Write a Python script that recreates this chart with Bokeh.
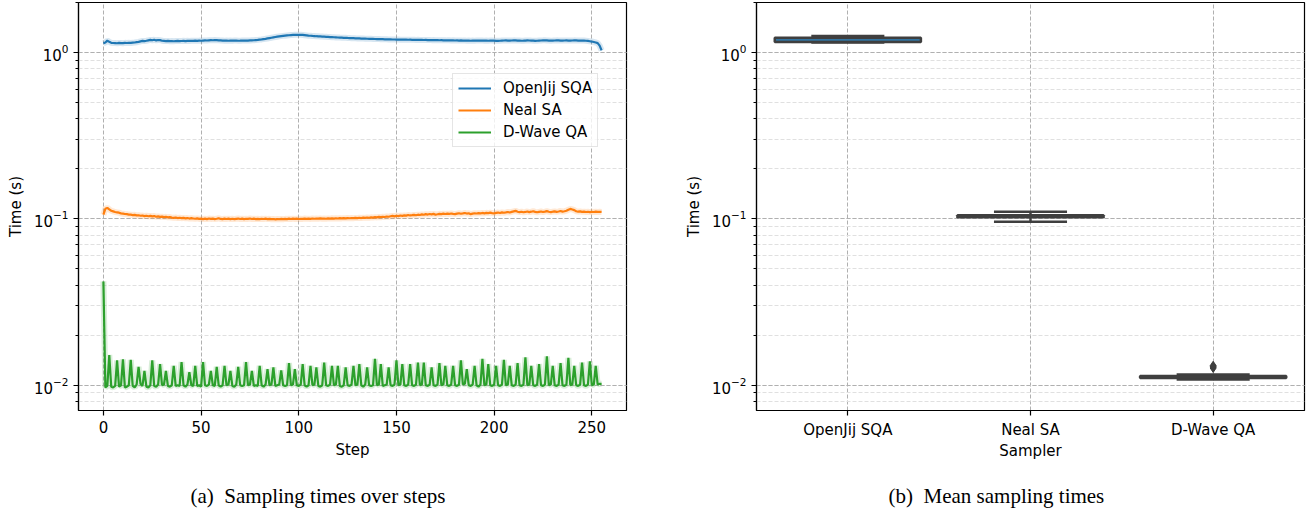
from bokeh.plotting import figure
from bokeh.layouts import row, column
from bokeh.models import (Range1d, FactorRange, Label, Legend, LegendItem,
                          LogTicker, FixedTicker, ColumnDataSource)
from bokeh.transform import dodge
from bokeh.embed import file_html
from bokeh.resources import INLINE

# ---------------- data ----------------
openjij_sqa = [
    1.138, 1.150, 1.180, 1.160, 1.145, 1.142, 1.140, 1.138, 1.143, 1.141, 1.139, 1.144, 1.142, 1.145, 1.143, 1.147,
    1.150, 1.155, 1.160, 1.168, 1.175, 1.172, 1.178, 1.185, 1.192, 1.186, 1.194, 1.183, 1.190, 1.188, 1.178, 1.175,
    1.172, 1.176, 1.171, 1.174, 1.170, 1.173, 1.175, 1.172, 1.174, 1.176, 1.173, 1.177, 1.175, 1.178, 1.176, 1.179,
    1.177, 1.180, 1.178, 1.181, 1.183, 1.182, 1.185, 1.187, 1.186, 1.189, 1.187, 1.185, 1.183, 1.181, 1.179, 1.180,
    1.178, 1.180, 1.179, 1.181, 1.180, 1.178, 1.179, 1.181, 1.180, 1.182, 1.181, 1.183, 1.185, 1.186, 1.189, 1.192,
    1.196, 1.200, 1.205, 1.210, 1.216, 1.222, 1.228, 1.234, 1.240, 1.246, 1.251, 1.256, 1.260, 1.264, 1.268, 1.271,
    1.274, 1.276, 1.278, 1.279, 1.280, 1.278, 1.276, 1.272, 1.268, 1.264, 1.262, 1.259, 1.257, 1.254, 1.252, 1.250,
    1.248, 1.246, 1.244, 1.242, 1.240, 1.238, 1.236, 1.234, 1.232, 1.230, 1.229, 1.227, 1.226, 1.224, 1.223, 1.221,
    1.220, 1.218, 1.217, 1.216, 1.214, 1.213, 1.212, 1.211, 1.210, 1.209, 1.208, 1.207, 1.206, 1.205, 1.204, 1.203,
    1.202, 1.201, 1.200, 1.199, 1.198, 1.198, 1.197, 1.197, 1.196, 1.196, 1.195, 1.196, 1.194, 1.195, 1.193, 1.194,
    1.192, 1.193, 1.191, 1.192, 1.190, 1.191, 1.189, 1.190, 1.188, 1.189, 1.187, 1.188, 1.186, 1.187, 1.185, 1.186,
    1.184, 1.185, 1.183, 1.185, 1.182, 1.184, 1.181, 1.183, 1.180, 1.182, 1.179, 1.181, 1.178, 1.180, 1.179, 1.181,
    1.180, 1.182, 1.181, 1.179, 1.181, 1.178, 1.180, 1.181, 1.179, 1.177, 1.176, 1.178, 1.180, 1.182, 1.183, 1.181,
    1.180, 1.182, 1.184, 1.183, 1.181, 1.180, 1.178, 1.179, 1.181, 1.183, 1.182, 1.180, 1.179, 1.177, 1.178, 1.180,
    1.182, 1.184, 1.185, 1.183, 1.181, 1.179, 1.180, 1.182, 1.184, 1.183, 1.181, 1.180, 1.182, 1.183, 1.181, 1.180,
    1.182, 1.184, 1.183, 1.181, 1.182, 1.180, 1.181, 1.178, 1.175, 1.170, 1.165, 1.158, 1.150, 1.140, 1.100, 1.030,
]

neal_sa = [
    0.1060, 0.1150, 0.1165, 0.1140, 0.1120, 0.1110, 0.1100, 0.1095, 0.1090, 0.1080, 0.1075, 0.1070, 0.1068, 0.1062, 0.1060, 0.1055,
    0.1058, 0.1050, 0.1052, 0.1045, 0.1048, 0.1040, 0.1045, 0.1038, 0.1042, 0.1035, 0.1040, 0.1030, 0.1036, 0.1028, 0.1032, 0.1025,
    0.1030, 0.1022, 0.1026, 0.1018, 0.1015, 0.1020, 0.1012, 0.1016, 0.1010, 0.1014, 0.1008, 0.1012, 0.1005, 0.1010, 0.1006, 0.1002,
    0.1008, 0.1000, 0.1004, 0.0998, 0.1003, 0.0997, 0.1006, 0.1000, 0.1004, 0.0998, 0.1002, 0.1010, 0.1000, 0.0997, 0.1003, 0.0999,
    0.1004, 0.0998, 0.1002, 0.0997, 0.1001, 0.1005, 0.0999, 0.1003, 0.0998, 0.1002, 0.1000, 0.1006, 0.0999, 0.1003, 0.0998, 0.1001,
    0.0997, 0.1002, 0.0999, 0.1004, 0.0998, 0.1001, 0.0996, 0.0999, 0.0994, 0.0998, 0.0995, 0.1000, 0.0996, 0.1001, 0.0998, 0.1003,
    0.0999, 0.1004, 0.1000, 0.1003, 0.0999, 0.1002, 0.1000, 0.1005, 0.1001, 0.1004, 0.1000, 0.1006, 0.1002, 0.1005, 0.1003, 0.1007,
    0.1003, 0.1006, 0.1002, 0.1007, 0.1004, 0.1008, 0.1005, 0.1009, 0.1006, 0.1010, 0.1007, 0.1011, 0.1008, 0.1012, 0.1009, 0.1013,
    0.1010, 0.1014, 0.1011, 0.1016, 0.1012, 0.1018, 0.1014, 0.1020, 0.1016, 0.1022, 0.1018, 0.1025, 0.1021, 0.1028, 0.1024, 0.1030,
    0.1027, 0.1034, 0.1030, 0.1038, 0.1042, 0.1036, 0.1045, 0.1040, 0.1048, 0.1043, 0.1050, 0.1046, 0.1055, 0.1049, 0.1053, 0.1058,
    0.1052, 0.1060, 0.1056, 0.1064, 0.1059, 0.1068, 0.1062, 0.1070, 0.1065, 0.1072, 0.1060, 0.1066, 0.1073, 0.1068, 0.1075, 0.1070,
    0.1076, 0.1071, 0.1078, 0.1073, 0.1069, 0.1076, 0.1082, 0.1074, 0.1079, 0.1085, 0.1077, 0.1081, 0.1068, 0.1075, 0.1082, 0.1078,
    0.1084, 0.1079, 0.1086, 0.1080, 0.1088, 0.1083, 0.1090, 0.1084, 0.1080, 0.1087, 0.1092, 0.1085, 0.1095, 0.1089, 0.1094, 0.1100,
    0.1093, 0.1102, 0.1110, 0.1118, 0.1105, 0.1098, 0.1104, 0.1096, 0.1101, 0.1108, 0.1099, 0.1105, 0.1112, 0.1103, 0.1096, 0.1102,
    0.1108, 0.1100, 0.1106, 0.1113, 0.1104, 0.1098, 0.1105, 0.1110, 0.1103, 0.1108, 0.1115, 0.1106, 0.1112, 0.1120, 0.1135, 0.1148,
    0.1140, 0.1130, 0.1112, 0.1105, 0.1110, 0.1102, 0.1106, 0.1100, 0.1104, 0.1098, 0.1103, 0.1100, 0.1105, 0.1101, 0.1104, 0.1102,
]

dwave_qa = [
    0.0421, 0.0097, 0.0099, 0.0152, 0.0098, 0.0097, 0.0099, 0.0141, 0.0098, 0.0100, 0.0143, 0.0097, 0.0098, 0.0100, 0.0142, 0.0099,
    0.0097, 0.0101, 0.0129, 0.0102, 0.0099, 0.0122, 0.0098, 0.0097, 0.0100, 0.0141, 0.0099, 0.0098, 0.0101, 0.0134, 0.0100, 0.0101,
    0.0122, 0.0099, 0.0098, 0.0100, 0.0131, 0.0099, 0.0100, 0.0099, 0.0138, 0.0100, 0.0098, 0.0101, 0.0120, 0.0100, 0.0099, 0.0131,
    0.0099, 0.0100, 0.0098, 0.0138, 0.0100, 0.0099, 0.0101, 0.0122, 0.0100, 0.0099, 0.0129, 0.0100, 0.0098, 0.0100, 0.0131, 0.0100,
    0.0101, 0.0122, 0.0099, 0.0098, 0.0101, 0.0129, 0.0100, 0.0099, 0.0100, 0.0138, 0.0100, 0.0101, 0.0122, 0.0099, 0.0100, 0.0099,
    0.0131, 0.0100, 0.0098, 0.0101, 0.0125, 0.0100, 0.0101, 0.0128, 0.0099, 0.0100, 0.0101, 0.0123, 0.0100, 0.0099, 0.0100, 0.0136,
    0.0100, 0.0101, 0.0125, 0.0100, 0.0099, 0.0101, 0.0134, 0.0100, 0.0098, 0.0100, 0.0131, 0.0100, 0.0101, 0.0128, 0.0099, 0.0098,
    0.0100, 0.0137, 0.0100, 0.0099, 0.0101, 0.0131, 0.0100, 0.0101, 0.0131, 0.0099, 0.0098, 0.0100, 0.0128, 0.0100, 0.0099, 0.0101,
    0.0131, 0.0100, 0.0101, 0.0134, 0.0100, 0.0098, 0.0101, 0.0128, 0.0100, 0.0099, 0.0100, 0.0144, 0.0100, 0.0101, 0.0134, 0.0099,
    0.0100, 0.0101, 0.0128, 0.0100, 0.0099, 0.0101, 0.0141, 0.0100, 0.0101, 0.0134, 0.0100, 0.0099, 0.0101, 0.0134, 0.0100, 0.0099,
    0.0101, 0.0137, 0.0100, 0.0101, 0.0137, 0.0100, 0.0099, 0.0101, 0.0128, 0.0100, 0.0099, 0.0101, 0.0136, 0.0100, 0.0101, 0.0131,
    0.0100, 0.0099, 0.0101, 0.0131, 0.0100, 0.0099, 0.0101, 0.0141, 0.0101, 0.0102, 0.0125, 0.0100, 0.0099, 0.0101, 0.0131, 0.0100,
    0.0098, 0.0101, 0.0144, 0.0100, 0.0101, 0.0134, 0.0100, 0.0099, 0.0101, 0.0131, 0.0100, 0.0099, 0.0101, 0.0142, 0.0100, 0.0101,
    0.0131, 0.0100, 0.0099, 0.0101, 0.0136, 0.0100, 0.0099, 0.0101, 0.0147, 0.0100, 0.0101, 0.0131, 0.0100, 0.0099, 0.0101, 0.0134,
    0.0100, 0.0099, 0.0101, 0.0149, 0.0100, 0.0101, 0.0131, 0.0100, 0.0099, 0.0101, 0.0136, 0.0100, 0.0099, 0.0101, 0.0146, 0.0100,
    0.0101, 0.0131, 0.0100, 0.0099, 0.0101, 0.0137, 0.0100, 0.0099, 0.0101, 0.0139, 0.0100, 0.0101, 0.0131, 0.0101, 0.0102, 0.0102,
]

series_names = ["OpenJij SQA", "Neal SA", "D-Wave QA"]
x_ticks = [0, 50, 100, 150, 200, 250]

samplers = ["OpenJij SQA", "Neal SA", "D-Wave QA"]
box_q1 = [1.157, 0.1022, 0.01104]
box_q3 = [1.227, 0.1053, 0.01138]
whisker_low = [1.148, 0.0960, 0.01084]
whisker_high = [1.256, 0.1104, 0.01159]
outlier_sampler = ["D-Wave QA", "D-Wave QA", "D-Wave QA"]
outlier_values = [0.0127, 0.0129, 0.0131]

captions = ["(a)\u00a0\u00a0Sampling times over steps", "(b)\u00a0\u00a0Mean sampling times"]

# ---------------- style ----------------
LINE_COLORS = ["#1f77b4", "#ff7f0e", "#2ca02c"]
BOX_COLORS = ["#3274a1", "#e1812c", "#3a923a"]
EDGE = "#3f3f3f"
FONT = "DejaVu Sans"
Y_LO, Y_HI = 0.00705, 2.0
PLOT_H = 470
CAP_H = 39


def style(p):
    p.outline_line_color = "black"
    p.outline_line_width = 1.2
    p.background_fill_color = "white"
    p.border_fill_color = "white"
    for ax in p.axis:
        ax.axis_line_color = "black"
        ax.axis_line_width = 1.2
        ax.major_tick_line_color = "black"
        ax.major_tick_line_width = 1.2
        ax.major_tick_out = 5
        ax.major_tick_in = 0
        ax.minor_tick_line_color = "black"
        ax.minor_tick_line_width = 1
        ax.minor_tick_out = 3
        ax.minor_tick_in = 0
        ax.major_label_text_font = FONT
        ax.major_label_text_font_size = "15px"
        ax.major_label_text_color = "black"
        ax.major_label_standoff = 5
        ax.axis_label_text_font = FONT
        ax.axis_label_text_font_size = "15px"
        ax.axis_label_text_font_style = "normal"
        ax.axis_label_text_color = "black"
        ax.axis_label_standoff = 6
    p.xaxis.minor_tick_line_color = None
    p.xgrid.grid_line_color = "#b0b0b0"
    p.xgrid.grid_line_dash = "4 2"
    p.xgrid.grid_line_width = 1
    p.ygrid.grid_line_color = "#b0b0b0"
    p.ygrid.grid_line_dash = "4 2"
    p.ygrid.grid_line_width = 1
    p.ygrid.minor_grid_line_color = "#e0e0e0"
    p.ygrid.minor_grid_line_dash = "4 2"
    p.ygrid.minor_grid_line_width = 1
    p.yaxis.ticker = LogTicker(num_minor_ticks=10)


# ---------------- left panel ----------------
p1 = figure(width=640, height=PLOT_H, y_axis_type="log",
            x_range=Range1d(-12.75, 267.75), y_range=Range1d(Y_LO, Y_HI),
            output_backend="svg", toolbar_location=None,
            min_border_left=78, min_border_right=14, min_border_top=2, min_border_bottom=60)
style(p1)
p1.xaxis.ticker = FixedTicker(ticks=x_ticks)
p1.xaxis.axis_label = "Step"
p1.yaxis.axis_label = "Time (s)"
p1.xaxis.axis_label_standoff = 5

items = []
for name, ys, col in zip(series_names, [openjij_sqa, neal_sa, dwave_qa], LINE_COLORS):
    xs = list(range(len(ys)))
    p1.line(xs, ys, line_color=col, line_width=6, line_alpha=0.18)
    r = p1.line(xs, ys, line_color=col, line_width=2.2)
    items.append(LegendItem(label=name, renderers=[r]))

legend = Legend(items=items, location=(374, 263), margin=0, padding=5, spacing=4,
                glyph_width=33, glyph_height=18, label_height=18, label_standoff=12,
                label_text_font=FONT, label_text_font_size="15px", label_text_color="black",
                border_line_color="#cccccc", border_line_width=1,
                background_fill_color="white", background_fill_alpha=0.8)
p1.add_layout(legend)

# ---------------- right panel ----------------
xr = FactorRange(*samplers)
p2 = figure(width=670, height=PLOT_H, y_axis_type="log", x_range=xr,
            y_range=Range1d(Y_LO, Y_HI),
            output_backend="svg", toolbar_location=None,
            min_border_left=116, min_border_right=6, min_border_top=2, min_border_bottom=60)
style(p2)
p2.xaxis.axis_label = "Sampler"
p2.yaxis.axis_label = "Time (s)"
p2.xaxis.axis_label_standoff = 0

src = ColumnDataSource(dict(x=samplers, q1=box_q1, q3=box_q3, lo=whisker_low,
                            hi=whisker_high, color=BOX_COLORS))
p2.segment(x0="x", x1="x", y0="q3", y1="hi", source=src, line_color=EDGE, line_width=2.5)
p2.segment(x0="x", x1="x", y0="lo", y1="q1", source=src, line_color=EDGE, line_width=2.5)
p2.vbar(x="x", top="q3", bottom="q1", width=0.8, source=src,
        fill_color="color", line_color=EDGE, line_width=2.5)
p2.segment(x0=dodge("x", -0.2, range=xr), x1=dodge("x", 0.2, range=xr), y0="hi", y1="hi",
           source=src, line_color=EDGE, line_width=2.5)
p2.segment(x0=dodge("x", -0.2, range=xr), x1=dodge("x", 0.2, range=xr), y0="lo", y1="lo",
           source=src, line_color=EDGE, line_width=2.5)
p2.scatter(x=outlier_sampler, y=outlier_values, marker="diamond", size=9,
           fill_color=EDGE, line_color=EDGE)

# ---------------- captions strip ----------------
cap = figure(width=1310, height=CAP_H, x_range=Range1d(0, 1310), y_range=Range1d(0, CAP_H),
             output_backend="svg", toolbar_location=None,
             x_axis_location=None, y_axis_location=None, min_border=0)
cap.outline_line_color = None
cap.grid.visible = False
for text, x0 in zip(captions, [190, 888]):
    cap.add_layout(Label(x=x0, y=14, text=text, text_align="left", text_baseline="middle",
                         text_font="Liberation Serif", text_font_size="21px",
                         text_color="black"))

layout = column(row(p1, p2, spacing=0), cap, spacing=0)
open("out.html", "w").write(file_html(layout, INLINE))
